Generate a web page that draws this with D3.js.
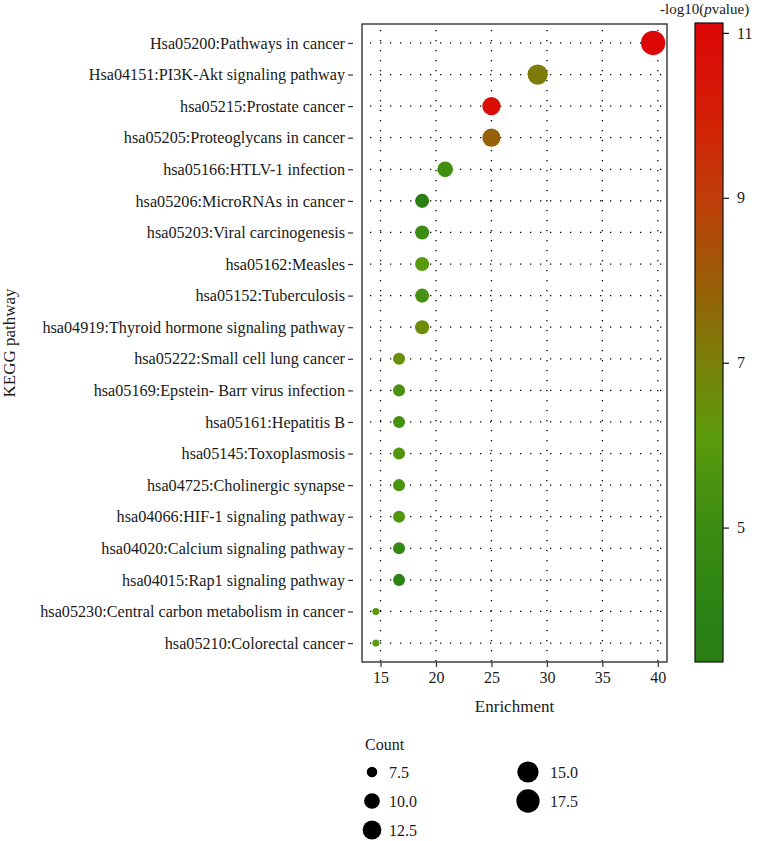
<!DOCTYPE html>
<html>
<head>
<meta charset="utf-8">
<script src="https://cdn.jsdelivr.net/npm/d3@7"></script>
<style>
  html, body { margin: 0; padding: 0; background: #fff; }
  svg { display: block; }
  text { font-family: "Liberation Serif", "Times New Roman", serif; fill: #1a1a1a; }
</style>
</head>
<body>
<svg id="chart" width="757" height="841"></svg>
<script>
// ---------------- data ----------------
const pathways = [
  "Hsa05200:Pathways in cancer",
  "Hsa04151:PI3K-Akt signaling pathway",
  "hsa05215:Prostate cancer",
  "hsa05205:Proteoglycans in cancer",
  "hsa05166:HTLV-1 infection",
  "hsa05206:MicroRNAs in cancer",
  "hsa05203:Viral carcinogenesis",
  "hsa05162:Measles",
  "hsa05152:Tuberculosis",
  "hsa04919:Thyroid hormone signaling pathway",
  "hsa05222:Small cell lung cancer",
  "hsa05169:Epstein- Barr virus infection",
  "hsa05161:Hepatitis B",
  "hsa05145:Toxoplasmosis",
  "hsa04725:Cholinergic synapse",
  "hsa04066:HIF-1 signaling pathway",
  "hsa04020:Calcium signaling pathway",
  "hsa04015:Rap1 signaling pathway",
  "hsa05230:Central carbon metabolism in cancer",
  "hsa05210:Colorectal cancer"
];
const counts = [19, 14, 12, 12, 10, 9, 9, 9, 9, 9, 8, 8, 8, 8, 8, 8, 8, 8, 7, 7];
const enrichment = [39.58, 29.17, 25.0, 25.0, 20.83, 18.75, 18.75, 18.75, 18.75, 18.75,
                    16.67, 16.67, 16.67, 16.67, 16.67, 16.67, 16.67, 16.67, 14.58, 14.58];
const negLogP = [11.12, 7.1, 10.7, 7.9, 5.2, 3.37, 5.0, 6.0, 5.4, 6.6,
                 6.5, 5.5, 5.3, 5.8, 5.5, 5.8, 4.5, 4.0, 6.0, 6.0];
const xTicks = [15, 20, 25, 30, 35, 40];
const colorTicks = [5, 7, 9, 11];
const sizeLegendValues = [7.5, 10.0, 12.5, 15.0, 17.5];
// colour ramp stops (value -> colour)
const colorStopValues = [3.37, 4, 5, 5.6, 6.1, 7, 7.5, 8, 9, 10, 11.12];
const colorStopColors = ["#2a7e14", "#2c8314", "#3b8c12", "#4c9410", "#5b9b0b", "#7a800a",
                         "#8a6e08", "#9a5c06", "#c03e0a", "#d41e06", "#dc0606"];

// ---------------- layout ----------------
const svg = d3.select("#chart");
const panel = { left: 362, right: 667, top: 24, bottom: 662 };

const data = pathways.map((p, i) => ({ p, count: counts[i], x: enrichment[i], c: negLogP[i] }));

const xExt = d3.extent(enrichment);
const xPad = (xExt[1] - xExt[0]) * 0.05;
const x = d3.scaleLinear().domain([xExt[0] - xPad, xExt[1] + xPad]).range([panel.left, panel.right]);
const y = d3.scalePoint().domain(pathways).range([panel.top, panel.bottom]).padding(0.6);

const color = d3.scaleLinear().domain(colorStopValues).range(colorStopColors).clamp(true);

const countExt = d3.extent(counts);
const tScale = d3.scaleLinear().domain(countExt).range([0, 1]).clamp(true);
const rScale = d3.scaleLinear().domain([0, 1]).range([3.5, 12.2]);
const radius = v => rScale(Math.sqrt(tScale(v)));

// ---------------- grid ----------------
const grid = svg.append("g");
grid.selectAll("line.h").data(pathways).join("line")
  .attr("x1", panel.left).attr("x2", panel.right)
  .attr("y1", d => y(d)).attr("y2", d => y(d))
  .attr("stroke", "#000").attr("stroke-width", 1.3)
  .attr("stroke-dasharray", "1.3 8.7").attr("stroke-dashoffset", -8);
grid.selectAll("line.v").data(xTicks).join("line")
  .attr("x1", d => x(d)).attr("x2", d => x(d))
  .attr("y1", panel.top).attr("y2", panel.bottom)
  .attr("stroke", "#000").attr("stroke-width", 1.3)
  .attr("stroke-dasharray", "1.3 8.7").attr("stroke-dashoffset", -6);

// ---------------- points ----------------
svg.append("g").selectAll("circle").data(data).join("circle")
  .attr("cx", d => x(d.x)).attr("cy", d => y(d.p))
  .attr("r", d => radius(d.count))
  .attr("fill", d => color(d.c));

// ---------------- panel border ----------------
svg.append("rect")
  .attr("x", panel.left).attr("y", panel.top)
  .attr("width", panel.right - panel.left).attr("height", panel.bottom - panel.top)
  .attr("fill", "none").attr("stroke", "#333").attr("stroke-width", 1.4);

// ---------------- axes ----------------
const yAxis = d3.axisLeft(y).tickSize(5).tickPadding(3);
const gy = svg.append("g").attr("transform", `translate(${panel.left - 9},0)`).call(yAxis);
gy.select(".domain").remove();
gy.selectAll(".tick line").attr("stroke", "#333").attr("stroke-width", 1.2);
gy.selectAll(".tick text").attr("font-size", 16.2).attr("fill", "#1a1a1a")
  .style("font-family", "'Liberation Serif', serif");

const xAxis = d3.axisBottom(x).tickValues(xTicks).tickSize(5).tickPadding(5);
const gx = svg.append("g").attr("transform", `translate(0,${panel.bottom})`).call(xAxis);
gx.select(".domain").remove();
gx.selectAll(".tick line").attr("stroke", "#333").attr("stroke-width", 1.2);
gx.selectAll(".tick text").attr("font-size", 16).attr("fill", "#1a1a1a")
  .style("font-family", "'Liberation Serif', serif");

svg.append("text")
  .attr("x", (panel.left + panel.right) / 2).attr("y", 712)
  .attr("text-anchor", "middle").attr("font-size", 17)
  .text("Enrichment");

svg.append("text")
  .attr("transform", `translate(15,${(panel.top + panel.bottom) / 2}) rotate(-90)`)
  .attr("text-anchor", "middle").attr("font-size", 17)
  .text("KEGG pathway");

// ---------------- colour bar ----------------
const cb = { x: 695, w: 28, top: 23, bottom: 662 };
const cScale = d3.scaleLinear().domain(d3.extent(negLogP)).range([cb.bottom, cb.top]);
const defs = svg.append("defs");
const grad = defs.append("linearGradient").attr("id", "cbgrad")
  .attr("x1", 0).attr("y1", 1).attr("x2", 0).attr("y2", 0);
const cDom = cScale.domain();
grad.selectAll("stop").data(colorStopValues).join("stop")
  .attr("offset", d => (d - cDom[0]) / (cDom[1] - cDom[0]))
  .attr("stop-color", d => color(d));
svg.append("rect")
  .attr("x", cb.x).attr("y", cb.top).attr("width", cb.w).attr("height", cb.bottom - cb.top)
  .attr("fill", "url(#cbgrad)").attr("stroke", "#111").attr("stroke-width", 1.2);
const cAxis = d3.axisRight(cScale).tickValues(colorTicks).tickSize(6).tickPadding(8);
const gc = svg.append("g").attr("transform", `translate(${cb.x + cb.w},0)`).call(cAxis);
gc.select(".domain").remove();
gc.selectAll(".tick line").attr("stroke", "#111").attr("stroke-width", 1.2);
gc.selectAll(".tick text").attr("font-size", 16).attr("fill", "#1a1a1a")
  .style("font-family", "'Liberation Serif', serif");

const ct = svg.append("text").attr("x", 660).attr("y", 14).attr("font-size", 15);
ct.append("tspan").text("-log10(");
ct.append("tspan").attr("font-style", "italic").text("p");
ct.append("tspan").text("value)");

// ---------------- size legend ----------------
svg.append("text").attr("x", 365).attr("y", 750).attr("font-size", 16).text("Count");
const legendPos = [
  { cx: 372, lx: 389, cy: 772 },
  { cx: 372, lx: 389, cy: 801 },
  { cx: 372, lx: 389, cy: 830 },
  { cx: 528, lx: 550, cy: 772 },
  { cx: 528, lx: 550, cy: 801 }
];
const lg = svg.append("g");
sizeLegendValues.forEach((v, i) => {
  const pos = legendPos[i];
  lg.append("circle").attr("cx", pos.cx).attr("cy", pos.cy).attr("r", radius(v)).attr("fill", "#000");
  lg.append("text").attr("x", pos.lx).attr("y", pos.cy).attr("dy", "0.35em")
    .attr("font-size", 16).text(d3.format(".1f")(v));
});
</script>
</body>
</html>
